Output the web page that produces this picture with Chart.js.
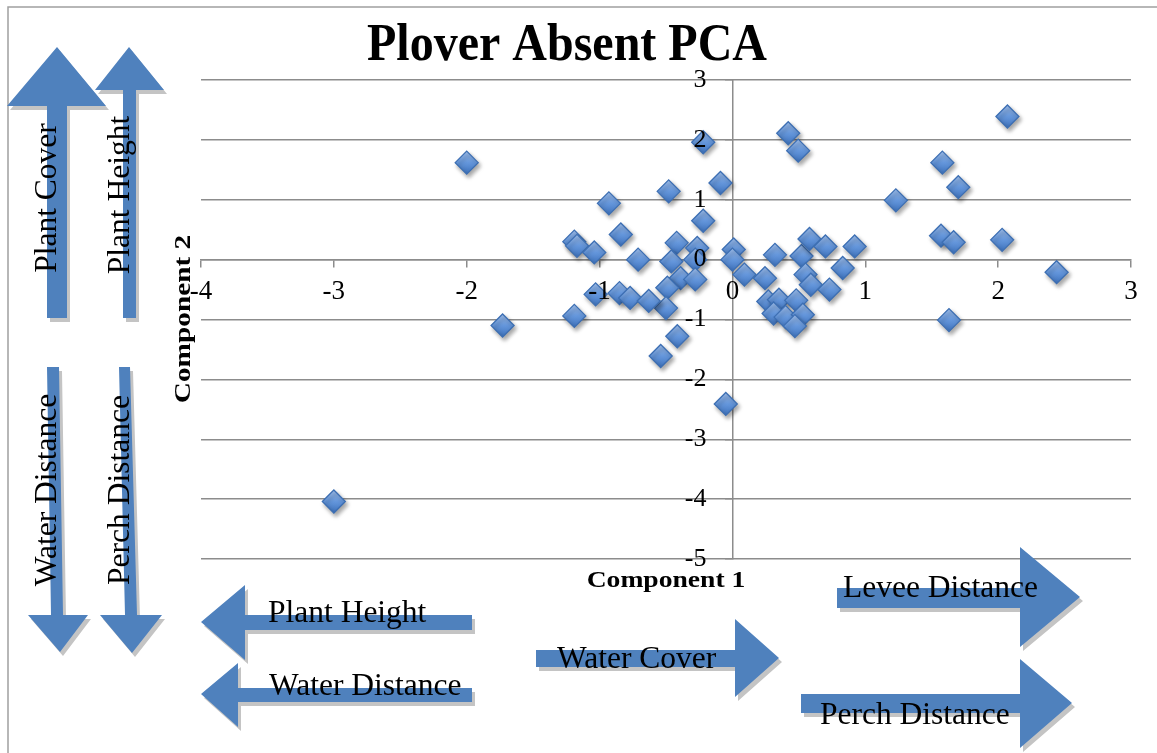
<!DOCTYPE html>
<html><head><meta charset="utf-8">
<script src="https://cdn.jsdelivr.net/npm/chart.js@4"></script>
<style>html,body{margin:0;padding:0;background:#fff;} #wrap{position:relative;width:1157px;height:753px;}</style>
</head><body><div id="wrap"><canvas id="c"></canvas></div>
<script>
// ---- data ----
const component1 = [-2.00,-1.73,-3.00,2.07,2.44,1.58,1.70,1.23,1.57,1.665,2.03,1.63,0.42,0.495,-0.22,-0.09,-0.48,-0.93,-0.22,-0.84,-1.19,-1.17,-1.04,-0.71,-0.42,-0.265,-0.46,-0.28,-0.39,-0.28,-0.49,-0.50,-0.415,-0.54,-1.03,-0.85,-0.77,-0.63,-1.19,0.01,0.00,0.09,0.245,0.32,0.52,0.58,0.70,0.92,0.83,0.55,0.59,0.73,0.27,0.35,0.48,0.31,0.40,0.53,0.47,-0.05];
const component2 = [1.62,-1.10,-4.04,2.39,-0.21,1.62,1.21,0.99,0.40,0.29,0.33,-1.01,2.11,1.82,1.96,1.28,1.14,0.94,0.65,0.42,0.30,0.23,0.12,0.00,0.28,0.195,-0.03,0.00,-0.31,-0.33,-0.47,-0.81,-1.28,-1.61,-0.58,-0.56,-0.64,-0.69,-0.94,0.17,0.00,-0.25,-0.31,0.08,0.06,0.345,0.22,0.22,-0.14,-0.25,-0.42,-0.50,-0.70,-0.67,-0.68,-0.90,-0.96,-0.92,-1.11,-2.41];
const xTickValues = [-4,-3,-2,-1,0,1,2,3];
const yTickValues = [-5,-4,-3,-2,-1,0,1,2,3];
const chartTitle = 'Plover Absent PCA';
const xAxisTitle = 'Component 1';
const yAxisTitle = 'Component 2';
const arrowLabels = ['Plant Cover','Plant Height','Water Distance','Perch Distance','Plant Height','Water Distance','Water Cover','Levee Distance','Perch Distance'];

// ---- decorative arrow layout (pixels) ----
const arrowShapes = [
  [[47,318],[47,106],[7,106],[57,47],[106,106],[67,106],[67,318]],
  [[123,318],[123,90],[95,90],[129,47],[164,90],[136,90],[136,318]],
  [[47,367],[59,367],[63,615],[88,615],[60,652],[28,615],[51,615]],
  [[119,367],[130,367],[137,615],[162,615],[132,653],[100,615],[125,615]],
  [[472,615],[245,615],[245,585],[201,622],[245,660],[245,630],[472,630]],
  [[472,688],[238,688],[238,663],[201,694],[238,727],[238,702],[472,702]],
  [[536,650],[735,650],[735,619],[779,658],[735,697],[735,667],[536,667]],
  [[837,588],[1020,588],[1020,547],[1080,597],[1020,647],[1020,608],[837,608]],
  [[801,694],[1020,694],[1020,659],[1072,703],[1020,748],[1020,713],[801,713]]
];
const labelPlaces = [
  {x:56,y:198,rot:true},{x:129,y:195,rot:true},{x:56,y:490,rot:true},{x:129,y:490,rot:true},
  {x:268,y:622},{x:269,y:695},{x:557,y:668},{x:843,y:597},{x:820,y:724}
];

const points = component1.map((v,i)=>({x:v,y:component2[i]}));
const GRID = '#8c8c8c';

const decor = {
  id:'decor',
  beforeDatasetsDraw(chart){
    const ctx = chart.ctx; ctx.save();
    ctx.shadowColor='rgba(0,0,0,0.35)'; ctx.shadowBlur=4; ctx.shadowOffsetX=2; ctx.shadowOffsetY=3;
  },
  afterDatasetsDraw(chart){ chart.ctx.restore(); },
  afterDraw(chart){
    const ctx = chart.ctx;
    ctx.save();
    ctx.strokeStyle='#a0a0a0'; ctx.lineWidth=1.5;
    ctx.beginPath(); ctx.moveTo(8,753); ctx.lineTo(8,7); ctx.lineTo(1157,7); ctx.stroke();
    const poly=(pts,dx,dy)=>{ctx.beginPath();pts.forEach((p,i)=>i?ctx.lineTo(p[0]+dx,p[1]+dy):ctx.moveTo(p[0]+dx,p[1]+dy));ctx.closePath();ctx.fill();};
    arrowShapes.forEach(pts=>{ ctx.fillStyle='#c4c4c4'; poly(pts,3,4); ctx.fillStyle='#4f81bd'; poly(pts,0,0); });
    ctx.fillStyle='#000'; ctx.font='31.5px "Liberation Serif"'; ctx.textBaseline='alphabetic';
    arrowLabels.forEach((t,i)=>{
      const p=labelPlaces[i];
      ctx.save();
      ctx.translate(p.x,p.y);
      if(p.rot){ ctx.rotate(-Math.PI/2); ctx.textAlign='center'; } else ctx.textAlign='left';
      ctx.fillText(t,0,0);
      ctx.restore();
    });
    ctx.save(); ctx.translate(567,60); ctx.scale(1,1.1);
    ctx.font='bold 48px "Liberation Serif"'; ctx.textAlign='center'; ctx.fillText(chartTitle,0,0); ctx.restore();
    ctx.save(); ctx.translate(666,587); ctx.scale(1.15,1);
    ctx.font='bold 24px "Liberation Serif"'; ctx.textAlign='center'; ctx.fillText(xAxisTitle,0,0); ctx.restore();
    ctx.save(); ctx.translate(190,319); ctx.rotate(-Math.PI/2); ctx.scale(1.22,1);
    ctx.font='bold 24px "Liberation Serif"'; ctx.textAlign='center'; ctx.fillText(yAxisTitle,0,0); ctx.restore();
    ctx.restore();
  }
};

const diamondFill = (c)=>{
  const fallback = '#5b8ed3';
  if(c.type!=='data' || !c.parsed || !c.chart.scales || !c.chart.scales.y) return fallback;
  const py=c.chart.scales.y.getPixelForValue(c.parsed.y);
  if(!isFinite(py)) return fallback;
  const g=c.chart.ctx.createLinearGradient(0,py-11,0,py+11);
  g.addColorStop(0,'#9cbdec'); g.addColorStop(0.5,'#6597dc'); g.addColorStop(1,'#3f73bd');
  return g;
};

new Chart(document.getElementById('c'),{
  type:'scatter',
  data:{datasets:[{label:'PCA',data:points,pointStyle:'rectRot',pointRadius:11.5,pointHoverRadius:11.5,
    backgroundColor:diamondFill,borderColor:'#3d6fb3',borderWidth:1.3}]},
  plugins:[decor],
  options:{
    responsive:true,maintainAspectRatio:false,animation:false,
    layout:{padding:{left:201,right:26,top:80,bottom:194}},
    plugins:{legend:{display:false},tooltip:{enabled:false},title:{display:false}},
    scales:{
      x:{type:'linear',min:-4,max:3,position:{y:0},
        afterBuildTicks:(s)=>{s.ticks=xTickValues.map(v=>({value:v}));},
        grid:{drawOnChartArea:false,drawTicks:true,tickLength:7,color:GRID,lineWidth:1.5},
        border:{display:true,color:GRID,width:1.5},
        ticks:{z:1,padding:9,color:'#000',font:{family:'"Liberation Serif"',size:27},callback:(v)=>String(v),maxRotation:0,autoSkip:false}},
      y:{type:'linear',min:-5,max:3,position:{x:0},
        afterBuildTicks:(s)=>{s.ticks=yTickValues.map(v=>({value:v}));},
        grid:{drawOnChartArea:true,drawTicks:true,tickLength:7,color:GRID,lineWidth:1.5},
        border:{display:true,color:GRID,width:1.5},
        ticks:{z:1,padding:18,color:'#000',font:{family:'"Liberation Serif"',size:26},callback:(v)=>String(v)+'\u2002\u2002',autoSkip:false}}
    }
  }
});
</script></body></html>
